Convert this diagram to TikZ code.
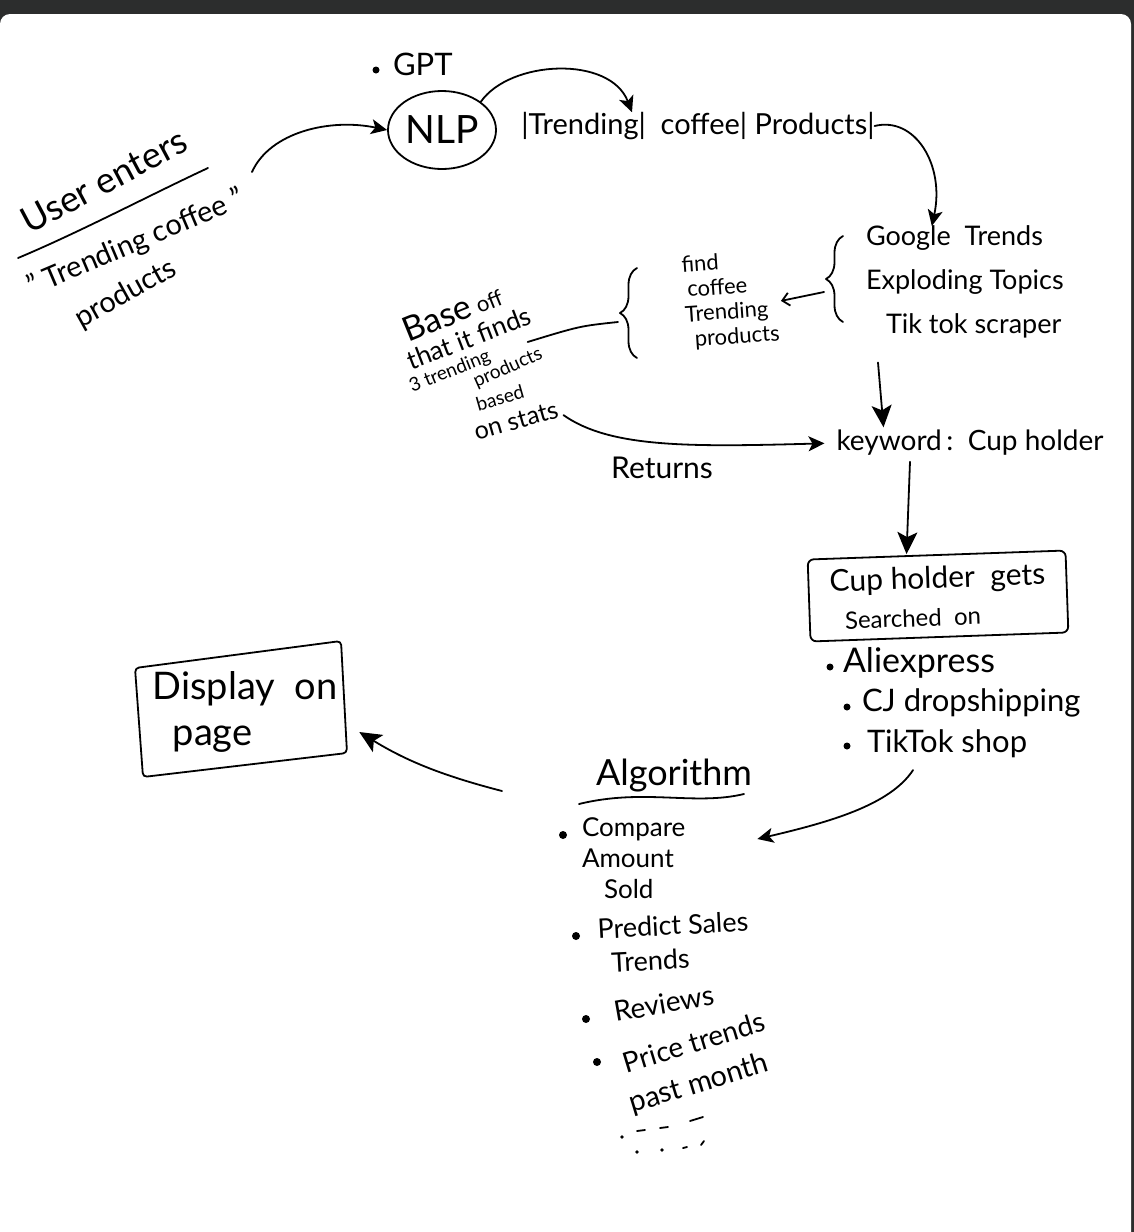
\documentclass[tikz,border=0pt]{standalone}
\usepackage{fontspec}
\setmainfont{Lato}
\usetikzlibrary{arrows.meta,shapes.geometric,calc,decorations.pathreplacing}
\newcommand{\fsz}[2]{\fontsize{#1}{#2}\selectfont}
\definecolor{barcol}{HTML}{2C2D2D}
\begin{document}
\begin{tikzpicture}[x=1pt,y=-1pt,
  txt/.style={inner sep=0pt, outer sep=0pt, text=black},
  ln/.style={line width=1.8pt, line cap=round, line join=round},
  arr/.style={ln, -{Stealth[length=16pt,width=15pt,inset=4pt]}},
  bigarr/.style={ln, -{Stealth[length=22pt,width=20pt,inset=5pt]}},
  barb/.style={ln, -{Straight Barb[length=7pt,width=13pt]}},
  dotb/.style={circle, fill=black, inner sep=0pt, minimum size=8pt},
  bracestyle/.style={ln, decorate, decoration={brace, amplitude=17pt}},
]
\useasboundingbox (0,0) rectangle (1134,1232);
\fill[barcol] (0,0) rectangle (1134,1232);
\fill[white, rounded corners=10pt] (0,14) -- (1131,14) -- (1131,1260) -- (0,1260) -- cycle;

% ---- User enters ----
\node[txt, font=\fsz{36}{38}, rotate=28] (ue1) at (104,181) {User enters};
\draw[ln] (18,258) .. controls (80,232) and (150,195) .. (208,168);
\node[txt, font=\fsz{29}{32}, rotate=23] (ue2) at (136,243) {" Trending coffee "};
\node[txt, font=\fsz{29}{32}, rotate=29] (ue3) at (126,294) {products};
\coordinate (ue) at (252,172);

% ---- GPT / NLP ----
\node[dotb, minimum size=7pt] (gptb) at (376,70) {};
\node[txt, font=\fsz{31}{34}, anchor=west] (gpt) at (393,64) {GPT};
\node[draw, ellipse, ln, minimum width=108pt, minimum height=78pt, inner sep=0pt, font=\fsz{39}{40}] (nlp) at (442,130) {NLP};
\draw[arr] (ue) .. controls (270,132) and (330,118) .. (nlp.west);

\node[txt, font=\fsz{29}{30}] (trend) at (698,126) {|Trending|\ \ coffee|\ Products|};
\draw[arr] (nlp.north east) .. controls (510,60) and (610,55) .. ([xshift=-66pt]trend.north);

% ---- sources ----
\node[txt, font=\fsz{27}{44}, align=left, anchor=north west] (src) at (866,226) {Google\ \ Trends\\Exploding\ Topics\\\hspace{20pt}Tik tok\ scraper};
\draw[arr] (trend.east) .. controls (915,116) and (945,165) .. ([xshift=-33pt]src.north);
\draw[bracestyle] (843,322) -- (843,236);
\coordinate (br1) at (824,292);

% ---- find coffee trending products ----
\node[txt, font=\fsz{22}{25}, align=left, anchor=north west, rotate=4] (find) at (681,256) {find\\\hspace{4pt}coffee\\Trending\\\hspace{8pt}products};
\draw[barb] (br1) -- ([xshift=4pt,yshift=-4pt]find.east);
\draw[bracestyle] (637,358) -- (637,268);
\coordinate (br2) at (618,322);

% ---- Base off ... ----
\node[txt, rotate=22, font=\fsz{22}{24}] (base1) at (452,312) {{\fsz{34}{36}Base}\ off};
\node[txt, rotate=21, font=\fsz{26}{28}] (base2) at (469,338) {that it finds};
\node[txt, rotate=22, font=\fsz{19}{22}] (base3) at (450,372) {3 trending};
\node[txt, rotate=24, font=\fsz{19}{22}] (base4) at (508,368) {products};
\node[txt, rotate=16, font=\fsz{19}{22}] (base5) at (500,398) {based};
\node[txt, rotate=16, font=\fsz{25}{28}] (base6) at (516,421) {on stats};
\draw[ln] (br2) .. controls (580,326) .. ([shift={(38,-14)}]base3.east);

% ---- keyword ----
\node[txt, font=\fsz{28}{30}] (kw) at (970,443) {keyword\,:\ \ Cup holder};
\draw[bigarr] ([xshift=12pt,yshift=-24pt]src.south west) -- ([xshift=47pt,yshift=3pt]kw.north west);

% ---- Returns ----
\draw[arr, shorten >=12pt] ([shift={(6,6)}]base6.east) .. controls (610,448) and (690,447) .. (kw.west);
\node[txt, font=\fsz{30}{32}] (ret) at (662,468) {Returns};

% ---- Cup holder box ----
\node[draw, ln, rounded corners=6pt, minimum width=258pt, minimum height=82pt, align=left, inner sep=0pt, rotate=2, font=\fsz{30}{38}] (cup) at (938,596) {Cup holder\ \ gets\\{\fsz{24}{38}\hspace{14pt}Searched\ \ on}};
\draw[bigarr] ([xshift=-60pt,yshift=-6pt]kw.south) -- ([xshift=-30pt]cup.north);

\node[dotb, minimum size=7pt] (b1) at (830,667) {};
\node[txt, font=\fsz{34}{36}, anchor=west] (ali) at (843,663) {Aliexpress};
\node[dotb, minimum size=7pt] (b2) at (847,707) {};
\node[txt, font=\fsz{31}{32}, anchor=west] (cj) at (862,703) {CJ dropshipping};
\node[dotb, minimum size=7pt] (b3) at (847,746) {};
\node[txt, font=\fsz{31}{32}, anchor=west] (tts) at (867,744) {TikTok shop};

% ---- Algorithm ----
\node[txt, font=\fsz{36}{38}] (alg) at (674,776) {Algorithm};
\draw[ln] ($(alg.center)+(-95,28)$) .. controls ($(alg.center)+(-30,12)$) and ($(alg.center)+(20,30)$) .. ($(alg.center)+(70,18)$);

\node[dotb] (ab1) at (563,835) {};
\node[txt, font=\fsz{26}{31}, align=left, anchor=north west] (cmp) at (582,818) {Compare\\Amount\\\hspace{22pt}Sold};
\node[dotb] (ab2) at (576,936) {};
\node[txt, font=\fsz{27}{34}, align=left, anchor=north west, rotate=3] (pred) at (597,919) {Predict Sales\\\hspace{12pt}Trends};
\node[dotb] (ab3) at (586,1019) {};
\node[txt, font=\fsz{28}{30}, anchor=west, rotate=10] (rev) at (614,1012) {Reviews};
\node[dotb] (ab4) at (597,1062) {};
\node[txt, font=\fsz{28}{30}, rotate=17] (pr1) at (694,1042) {Price trends};
\node[txt, font=\fsz{29}{30}, rotate=17] (pr2) at (699,1084) {past month};

\fill (622,1137) circle (1.8pt);
\draw[ln] (637,1131) -- (645,1130);
\draw[ln] (660,1128) -- (668,1127);
\draw[ln] (690,1121) -- (703,1117);
\fill (637,1152) circle (1.8pt);
\fill (662,1150) circle (1.8pt);
\draw[ln] (683,1148) -- (687,1147);
\draw[ln] (701,1145) -- (704,1141);

\draw[arr] ([xshift=-34pt,yshift=-12pt]tts.south) .. controls (890,805) and (830,822) .. ([xshift=72pt,yshift=-4pt]cmp.north east |- ab1);

% ---- Display on page ----
\node[txt, font=\fsz{38}{46}, align=left] (disp) at (245,712) {Display\ \ on\\\hspace{20pt}page};
\draw[ln, rounded corners=4pt] (135,668) -- (341,641) -- (347,753) -- (143,777) -- cycle;
\coordinate (algL) at (502,791);
\draw[bigarr] (algL) .. controls (440,775) and (405,760) .. ([shift={(22,20)}]disp.east);
\end{tikzpicture}
\end{document}
